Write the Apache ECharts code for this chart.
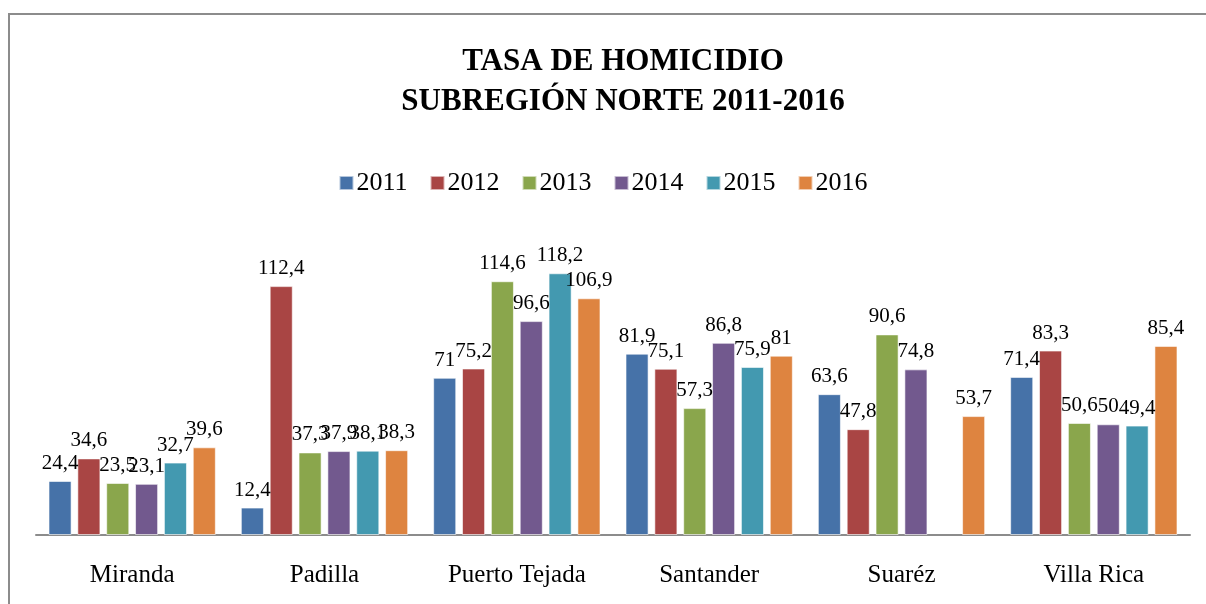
<!DOCTYPE html>
<html>
<head>
<meta charset="utf-8">
<script src="https://cdn.jsdelivr.net/npm/echarts@6/dist/echarts.min.js"></script>
<style>
  html, body { margin: 0; padding: 0; background: #fff; }
  #frame { position: absolute; left: 8px; top: 13px; width: 1300px; height: 700px;
           border-left: 2px solid #8c8c8c; border-top: 2px solid #8c8c8c; }
  #chart { position: absolute; left: 0; top: 0; width: 1206px; height: 604px; }
</style>
</head>
<body>
<div id="frame"></div>
<div id="chart"></div>
<script>
const categories = ['Miranda', 'Padilla', 'Puerto Tejada', 'Santander', 'Suaréz', 'Villa Rica'];
const years = ['2011', '2012', '2013', '2014', '2015', '2016'];
const v2011 = [24.4, 12.4, 71, 81.9, 63.6, 71.4];
const v2012 = [34.6, 112.4, 75.2, 75.1, 47.8, 83.3];
const v2013 = [23.5, 37.3, 114.6, 57.3, 90.6, 50.6];
const v2014 = [23.1, 37.9, 96.6, 86.8, 74.8, 50];
const v2015 = [32.7, 38.1, 118.2, 75.9, null, 49.4];
const v2016 = [39.6, 38.3, 106.9, 81, 53.7, 85.4];
const seriesValues = [v2011, v2012, v2013, v2014, v2015, v2016];
const colors = ['#4672a8', '#a94544', '#8aa64c', '#72598e', '#4399b0', '#de8440'];

const chart = echarts.init(document.getElementById('chart'));
const serif = '"Liberation Serif", "DejaVu Serif", serif';

const option = {
  animation: false,
  title: {
    text: 'TASA DE HOMICIDIO\nSUBREGIÓN NORTE 2011-2016',
    left: 618,
    textAlign: 'center',
    top: 37,
    textStyle: {
      fontFamily: serif,
      fontWeight: 'bold',
      fontSize: 31,
      lineHeight: 40,
      color: '#000'
    }
  },
  legend: {
    data: years,
    top: 165,
    left: 'center',
    itemWidth: 14,
    itemHeight: 14,
    itemGap: 22,
    icon: 'rect',
    textStyle: {
      fontFamily: serif,
      fontSize: 26,
      color: '#000',
      padding: [0, 0, 0, -2]
    }
  },
  grid: {
    left: 36,
    right: 16,
    top: 225,
    bottom: 69
  },
  xAxis: {
    type: 'category',
    data: categories,
    axisLine: { lineStyle: { color: '#8c8c8c', width: 2 } },
    axisTick: { show: false },
    axisLabel: {
      fontFamily: serif,
      fontSize: 25,
      color: '#000',
      margin: 28
    }
  },
  yAxis: {
    type: 'value',
    min: 0,
    max: 140,
    show: false,
    splitLine: { show: false }
  },
  series: seriesValues.map((vals, i) => ({
    name: years[i],
    type: 'bar',
    data: vals,
    barGap: '25%',
    barCategoryGap: '13%',
    itemStyle: {
      color: colors[i],
      borderColor: 'rgba(255,255,255,0.6)',
      borderWidth: 1
    },
    label: {
      show: true,
      position: 'top',
      distance: 7,
      fontFamily: serif,
      fontSize: 21,
      color: '#000',
      formatter: p => p.value == null ? '' : String(p.value).replace('.', ',')
    }
  }))
};

chart.setOption(option);
</script>
</body>
</html>
